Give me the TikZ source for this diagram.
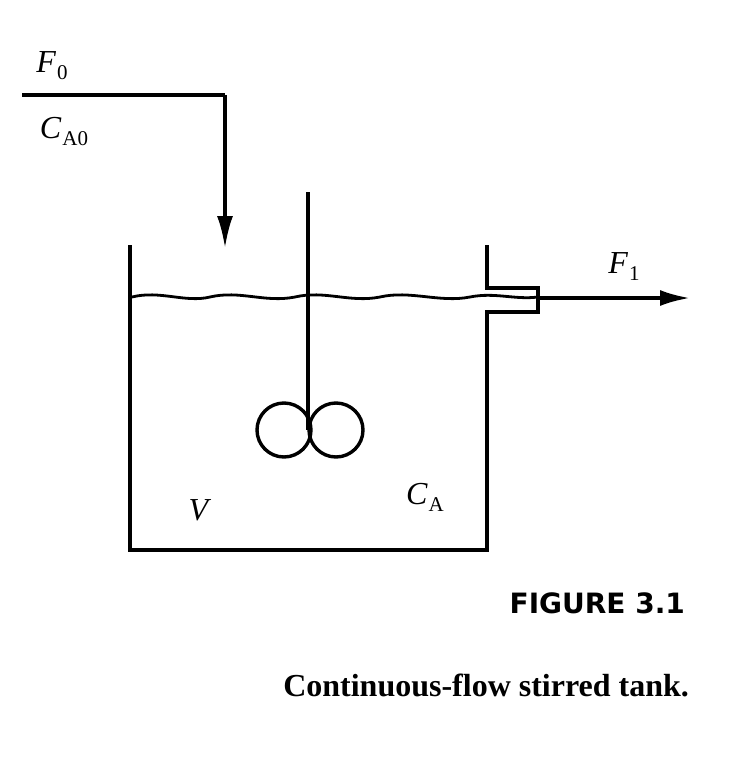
\documentclass[tikz,border=0pt]{standalone}
\usepackage{fontspec}
\usetikzlibrary{arrows.meta}
\setmainfont{Liberation Serif}
\newfontfamily\figfont{DejaVu Sans}
\newcommand{\sym}[2]{\textit{#1}\kern1pt\raisebox{-7pt}{\fontsize{21}{22}\selectfont #2}}
\begin{document}
\begin{tikzpicture}[x=1pt,y=-1pt,line width=3.4pt,
  lab/.style={font=\fontsize{32}{34}\selectfont}]
\useasboundingbox (0,0) rectangle (750,766);
\coordinate (in0) at (22,95);
\coordinate (in1) at (225,95);
\coordinate (in2) at (225,248);
\draw (in0) -- (in1);
\draw[-{Latex[length=32pt,width=16pt]}] (in1) -- (in2);
\node[lab] (f0) at (52,66) {\sym{F}{0}};
\node[lab] (ca0) at (64,132) {\sym{C}{A0}};
% tank
\draw (130,245) -- (130,550) -- (487,550) -- (487,312) -- (538,312) -- (538,288) -- (487,288) -- (487,245);
% liquid surface
\draw[line width=2.8pt] (132,297) .. controls (160,290) and (185,303) .. (210,297)
  .. controls (240,290) and (265,303) .. (295,297)
  .. controls (325,290) and (350,303) .. (380,297)
  .. controls (410,290) and (440,303) .. (470,297)
  .. controls (495,292) and (515,300) .. (538,297);
\coordinate (o0) at (538,298);
\coordinate (o1) at (690,298);
\draw[-{Latex[length=30pt,width=16pt]}] (o0) -- (o1);
\node[lab] (f1) at (624,267) {\sym{F}{1}};
% stirrer
\draw (308,192) -- (308,430);
\draw (284,430) circle (27);
\draw (336,430) circle (27);
\node[lab] (v) at (200,510) {\textit{V}};
\node[lab] (ca) at (425,497) {\sym{C}{A}};
\node[anchor=east,font=\figfont\bfseries\fontsize{28}{30}\selectfont] (fig) at (690,603) {FIGURE 3.1};
\node[anchor=east,font=\bfseries\fontsize{32}{34}\selectfont] (cap) at (694,685) {Continuous-flow stirred tank.};
\end{tikzpicture}
\end{document}
